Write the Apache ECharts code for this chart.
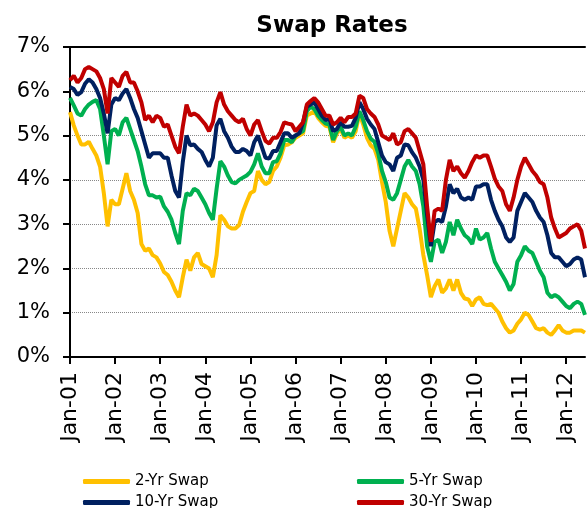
<!DOCTYPE html>
<html>
<head>
<meta charset="utf-8">
<script src="https://cdn.jsdelivr.net/npm/echarts@6/dist/echarts.min.js"></script>
<style>
  html, body { margin: 0; padding: 0; background: #fff; }
  #chart { width: 587px; height: 508px; }
</style>
</head>
<body>
<div id="chart"></div>
<script>
// monthly readings, Jan-01 .. Jun-12 (percent)
const swap2y = [
  5.53, 5.23, 5.0, 4.8, 4.8, 4.86, 4.7, 4.55, 4.3, 3.7, 2.95, 3.55,
  3.45, 3.45, 3.8, 4.15, 3.75, 3.55, 3.25, 2.55, 2.4, 2.45, 2.3, 2.25,
  2.11, 1.92, 1.85, 1.7, 1.5, 1.35, 1.8, 2.2, 1.95, 2.25, 2.35, 2.1,
  2.05, 2.0, 1.8, 2.3, 3.2, 3.1, 2.95, 2.9, 2.9, 2.98, 3.28, 3.5,
  3.7, 3.75, 4.2, 4.0, 3.9, 3.95, 4.2, 4.3, 4.5, 4.78, 4.8, 4.85,
  4.95, 5.0, 5.05, 5.45, 5.5, 5.55, 5.4, 5.3, 5.22, 5.2, 4.85, 5.05,
  5.15, 4.95, 5.0, 4.95, 5.1, 5.5, 5.25, 4.95, 4.78, 4.7, 4.45, 3.95,
  3.5, 2.85, 2.5, 2.9, 3.3, 3.7, 3.6, 3.45, 3.35, 2.9, 2.3, 1.85,
  1.35, 1.6, 1.75, 1.45, 1.55, 1.75, 1.5, 1.75, 1.45, 1.32, 1.3, 1.15,
  1.3, 1.35, 1.2, 1.17, 1.2, 1.1, 1.0, 0.8, 0.65, 0.55, 0.6, 0.75,
  0.85, 1.0, 0.95, 0.8, 0.65, 0.62, 0.65, 0.55, 0.5, 0.6, 0.72, 0.6,
  0.55, 0.55, 0.6, 0.6, 0.6, 0.55
]
const swap5y = [
  5.85, 5.68, 5.5, 5.45, 5.6, 5.7, 5.76, 5.8, 5.6, 5.0, 4.35, 5.1,
  5.15, 5.0, 5.3, 5.4, 5.15, 4.9, 4.65, 4.3, 3.9, 3.65, 3.65, 3.6,
  3.62, 3.4, 3.28, 3.1, 2.8, 2.55, 3.3, 3.7, 3.65, 3.8, 3.75, 3.6,
  3.45, 3.25, 3.1, 3.8, 4.42, 4.3, 4.1, 3.95, 3.92, 4.0, 4.05, 4.1,
  4.18, 4.35, 4.6, 4.3, 4.15, 4.15, 4.4, 4.42, 4.6, 4.9, 4.9, 4.85,
  5.0, 5.05, 5.1, 5.55, 5.65, 5.6, 5.45, 5.35, 5.27, 5.25, 4.9, 5.1,
  5.2, 5.0, 5.05, 5.0, 5.2, 5.55, 5.35, 5.1, 4.93, 4.86, 4.6, 4.2,
  3.95, 3.6, 3.55, 3.7, 4.0, 4.3, 4.45, 4.3, 4.2, 3.9, 3.4, 2.5,
  2.15, 2.6, 2.65, 2.35, 2.6, 3.05, 2.75, 3.1, 2.9, 2.75, 2.68, 2.55,
  2.9, 2.65, 2.7, 2.8, 2.45, 2.15, 2.0, 1.85, 1.7, 1.5, 1.65, 2.15,
  2.3, 2.5, 2.4, 2.35, 2.15, 1.95, 1.8, 1.45, 1.35, 1.4, 1.35, 1.25,
  1.15, 1.1, 1.2, 1.25, 1.2, 0.95
]
const swap10y = [
  6.1, 6.05, 5.92, 5.98, 6.17, 6.27, 6.2, 6.05, 5.85, 5.5, 5.05, 5.7,
  5.85, 5.8, 5.95, 6.05, 5.85, 5.6, 5.4, 5.1, 4.8, 4.5, 4.6, 4.6,
  4.6, 4.5, 4.5, 4.1, 3.75, 3.6, 4.4, 5.0, 4.78, 4.8, 4.7, 4.63,
  4.45, 4.3, 4.5, 5.23, 5.38, 5.1, 4.95, 4.75, 4.63, 4.63, 4.7, 4.65,
  4.55, 4.85, 5.0, 4.75, 4.5, 4.48, 4.65, 4.65, 4.85, 5.05, 5.05, 4.95,
  5.0, 5.05, 5.3, 5.65, 5.7, 5.75, 5.6, 5.45, 5.35, 5.38, 5.1, 5.15,
  5.3, 5.2, 5.2, 5.22, 5.4, 5.75, 5.6, 5.38, 5.25, 5.15, 4.85, 4.55,
  4.4, 4.35, 4.2, 4.5, 4.55, 4.8, 4.78, 4.62, 4.5, 4.3, 4.0, 3.2,
  2.5, 3.05, 3.1, 3.05, 3.4, 3.9, 3.7, 3.8, 3.6, 3.55, 3.6, 3.55,
  3.85, 3.85, 3.9, 3.9, 3.55, 3.3, 3.1, 2.95, 2.7, 2.6, 2.7, 3.3,
  3.5, 3.7, 3.6, 3.5, 3.3, 3.15, 3.05, 2.75, 2.35, 2.25, 2.25, 2.15,
  2.05, 2.1, 2.2, 2.25, 2.2, 1.8
]
const swap30y = [
  6.25, 6.35, 6.2, 6.3, 6.5, 6.55, 6.5, 6.45, 6.3, 6.05, 5.5, 6.3,
  6.2, 6.1, 6.35, 6.44, 6.2, 6.2, 6.0, 5.75, 5.35, 5.45, 5.3, 5.45,
  5.4, 5.2, 5.25, 5.0, 4.75, 4.6, 5.2, 5.7, 5.45, 5.5, 5.45, 5.35,
  5.25, 5.1, 5.3, 5.75, 5.98, 5.7, 5.55, 5.45, 5.35, 5.3, 5.38, 5.15,
  5.0, 5.25, 5.35, 5.1, 4.88, 4.82, 4.95, 4.95, 5.08, 5.3, 5.27, 5.25,
  5.1, 5.2, 5.3, 5.7, 5.78, 5.85, 5.75, 5.6, 5.45, 5.45, 5.25, 5.3,
  5.4, 5.3, 5.42, 5.42, 5.5, 5.9, 5.85, 5.6, 5.5, 5.42, 5.25, 5.0,
  4.95, 4.9, 5.05, 4.8, 4.85, 5.1, 5.15, 5.05, 4.95, 4.65, 4.35, 3.4,
  2.6, 3.3, 3.35, 3.3, 4.0, 4.45, 4.2, 4.3, 4.15, 4.05, 4.2, 4.4,
  4.55, 4.5, 4.55, 4.55, 4.3, 4.03, 3.85, 3.75, 3.45, 3.3, 3.6, 4.0,
  4.3, 4.5, 4.35, 4.2, 4.1, 3.95, 3.9, 3.6, 3.15, 2.9, 2.7, 2.75,
  2.8, 2.9, 2.95, 3.0, 2.85, 2.45
]
const seriesNames = ['2-Yr Swap', '5-Yr Swap', '10-Yr Swap', '30-Yr Swap']
const seriesColors = ['#FFC000', '#00B050', '#002060', '#C00000']
const monthNames = ['Jan', 'Feb', 'Mar', 'Apr', 'May', 'Jun', 'Jul', 'Aug', 'Sep', 'Oct', 'Nov', 'Dec']
const yTicks = [0, 1, 2, 3, 4, 5, 6, 7]

// category per month, starting Jan-01
const months = swap2y.map((v, i) => {
  const yy = String(1 + Math.floor(i / 12)).padStart(2, '0')
  return monthNames[i % 12] + '-' + yy
})

const FONT = 'DejaVu Sans'
const isJan = (idx) => idx % 12 === 0

const chart = echarts.init(document.getElementById('chart'))

const series = [swap2y, swap5y, swap10y, swap30y].map((data, i) => ({
  name: seriesNames[i],
  type: 'line',
  data,
  symbol: 'none',
  color: seriesColors[i],
  lineStyle: { width: 4, color: seriesColors[i] },
  animation: false
}))

const legendBase = {
  orient: 'vertical',
  top: 472,
  height: 60,
  padding: 0,
  icon: 'roundRect',
  itemWidth: 47,
  itemHeight: 5,
  itemGap: 2,
  textStyle: { fontFamily: FONT, fontSize: 15, color: '#000', lineHeight: 19 }
}

chart.setOption({
  animation: false,
  title: {
    text: 'Swap Rates',
    left: 327,
    top: 10,
    textAlign: 'center',
    textStyle: { fontFamily: FONT, fontWeight: 'bold', fontSize: 23, color: '#000' }
  },
  legend: [
    Object.assign({}, legendBase, { data: [seriesNames[0], seriesNames[2]], left: 83 }),
    Object.assign({}, legendBase, { data: [seriesNames[1], seriesNames[3]], left: 357 })
  ],
  grid: { left: 70, right: 2, top: 47, bottom: 151 },
  xAxis: [
    {
      type: 'category',
      data: months,
      boundaryGap: false,
      axisLine: { lineStyle: { color: '#000', width: 2 } },
      axisTick: { interval: (idx) => isJan(idx), length: 7, lineStyle: { color: '#000', width: 2 } },
      axisLabel: {
        interval: (idx) => isJan(idx),
        rotate: 90,
        margin: 15,
        padding: [0, 0, 12, 0],
        fontFamily: FONT,
        fontSize: 22,
        color: '#000'
      },
      splitLine: { show: false }
    },
    {
      type: 'category',
      data: months,
      position: 'top',
      boundaryGap: false,
      axisLine: { lineStyle: { color: '#000', width: 2 } },
      axisTick: { show: false },
      axisLabel: { show: false }
    }
  ],
  yAxis: {
    type: 'value',
    min: yTicks[0],
    max: yTicks[yTicks.length - 1],
    interval: 1,
    axisLine: { show: true, lineStyle: { color: '#000', width: 2 } },
    axisTick: { show: true, length: 7, lineStyle: { color: '#000', width: 2 } },
    axisLabel: {
      formatter: '{value}%',
      margin: 20,
      fontFamily: FONT,
      fontSize: 21,
      color: '#000'
    },
    splitLine: { lineStyle: { color: '#888', type: 'dotted', width: 1 } }
  },
  series
})
</script>
</body>
</html>
